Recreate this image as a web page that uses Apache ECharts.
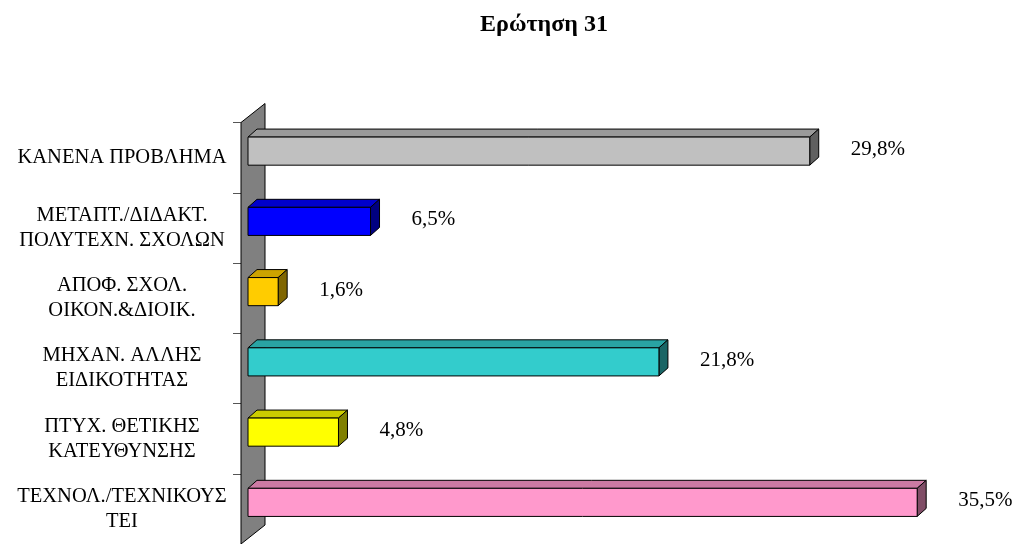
<!DOCTYPE html>
<html>
<head>
<meta charset="utf-8">
<script src="https://cdn.jsdelivr.net/npm/echarts@6/dist/echarts.min.js"></script>
<style>
html,body{margin:0;padding:0;background:#fff;}
#chart{width:1019px;height:544px;}
</style>
</head>
<body>
<div id="chart"></div>
<script>
const titleText = 'Ερώτηση 31';
const categories = [
  'ΚΑΝΕΝΑ ΠΡΟΒΛΗΜΑ',
  'ΜΕΤΑΠΤ./ΔΙΔΑΚΤ.\nΠΟΛΥΤΕΧΝ. ΣΧΟΛΩΝ',
  'ΑΠΟΦ. ΣΧΟΛ.\nΟΙΚΟΝ.&ΔΙΟΙΚ.',
  'ΜΗΧΑΝ. ΑΛΛΗΣ\nΕΙΔΙΚΟΤΗΤΑΣ',
  'ΠΤΥΧ. ΘΕΤΙΚΗΣ\nΚΑΤΕΥΘΥΝΣΗΣ',
  'ΤΕΧΝΟΛ./ΤΕΧΝΙΚΟΥΣ\nΤΕΙ'
];
const values = [29.8, 6.5, 1.6, 21.8, 4.8, 35.5];
const valueLabels = ['29,8%', '6,5%', '1,6%', '21,8%', '4,8%', '35,5%'];
const frontColors = ['#C0C0C0', '#0000FF', '#FFCC00', '#33CCCC', '#FFFF00', '#FF99CC'];
const topColors   = ['#9A9A9A', '#0000CC', '#CCA300', '#29A3A3', '#CCCC00', '#CC7AA3'];
const sideColors  = ['#606060', '#000080', '#806600', '#1A6666', '#808000', '#804D66'];

const SERIF = '"Liberation Serif", "DejaVu Serif", serif';

const chart = echarts.init(document.getElementById('chart'), null, {renderer: 'canvas'});

function renderWall(params, api) {
  const p = api.coord([0, 0]);
  const band = api.size([0, 1])[1];
  const top = p[1] - band / 2;
  const bottom = top + band * categories.length;
  const x = p[0];
  const dx = 24, dy = -19;
  return {
    type: 'polygon',
    shape: {points: [[x, top], [x + dx, top + dy], [x + dx, bottom + dy], [x, bottom]]},
    style: {fill: '#808080', stroke: '#000', lineWidth: 1}
  };
}

function renderBar(params, api) {
  const idx = api.value(0);
  const v = api.value(1);
  const p0 = api.coord([0, idx]);
  const p1 = api.coord([v, idx]);
  const band = api.size([0, 1])[1];
  const h = band * 0.4;
  const fx = 7, fy = -6.5, dx = 9, dy = -8;
  const x0 = p0[0] + fx, x1 = p1[0] + fx;
  const yc = p0[1] + fy;
  const yt = yc - h / 2, yb = yc + h / 2;
  const i = params.dataIndex;
  const stroke = {stroke: '#000', lineWidth: 1};
  return {
    type: 'group',
    children: [
      {type: 'polygon', shape: {points: [[x0, yt], [x0 + dx, yt + dy], [x1 + dx, yt + dy], [x1, yt]]},
       style: Object.assign({fill: topColors[i]}, stroke)},
      {type: 'polygon', shape: {points: [[x1, yt], [x1 + dx, yt + dy], [x1 + dx, yb + dy], [x1, yb]]},
       style: Object.assign({fill: sideColors[i]}, stroke)},
      {type: 'rect', shape: {x: x0, y: yt, width: x1 - x0, height: h},
       style: Object.assign({fill: frontColors[i]}, stroke)},
      {type: 'text', x: x1 + dx + 32, y: yc + dy / 2 + 2.5,
       style: {text: valueLabels[i], fill: '#000', font: '21px ' + SERIF,
               textAlign: 'left', textVerticalAlign: 'middle'}}
    ]
  };
}

const option = {
  backgroundColor: '#fff',
  animation: false,
  title: {
    text: titleText,
    left: 539,
    textAlign: 'center',
    top: 8,
    textStyle: {fontFamily: SERIF, fontWeight: 'bold', fontSize: 24, color: '#000'}
  },
  grid: {left: 241, top: 122.5, right: 24, height: 424, containLabel: false},
  xAxis: {type: 'value', min: 0, max: 40, show: false},
  yAxis: {
    type: 'category',
    inverse: true,
    data: categories,
    axisLine: {show: false},
    axisTick: {show: true, length: 8, lineStyle: {color: '#555', width: 1}},
    axisLabel: {
      margin: 119,
      align: 'center',
      fontFamily: SERIF,
      fontSize: 20.5,
      lineHeight: 25,
      color: '#000'
    },
    splitLine: {show: false}
  },
  series: [
    {type: 'custom', renderItem: renderWall, data: [[0, 0]], encode: {x: 1, y: 0}, z: 1, silent: true, clip: false},
    {type: 'custom', renderItem: renderBar, data: values.map((v, i) => [i, v]), encode: {x: 1, y: 0}, z: 2, clip: false}
  ]
};
chart.setOption(option);
</script>
</body>
</html>
